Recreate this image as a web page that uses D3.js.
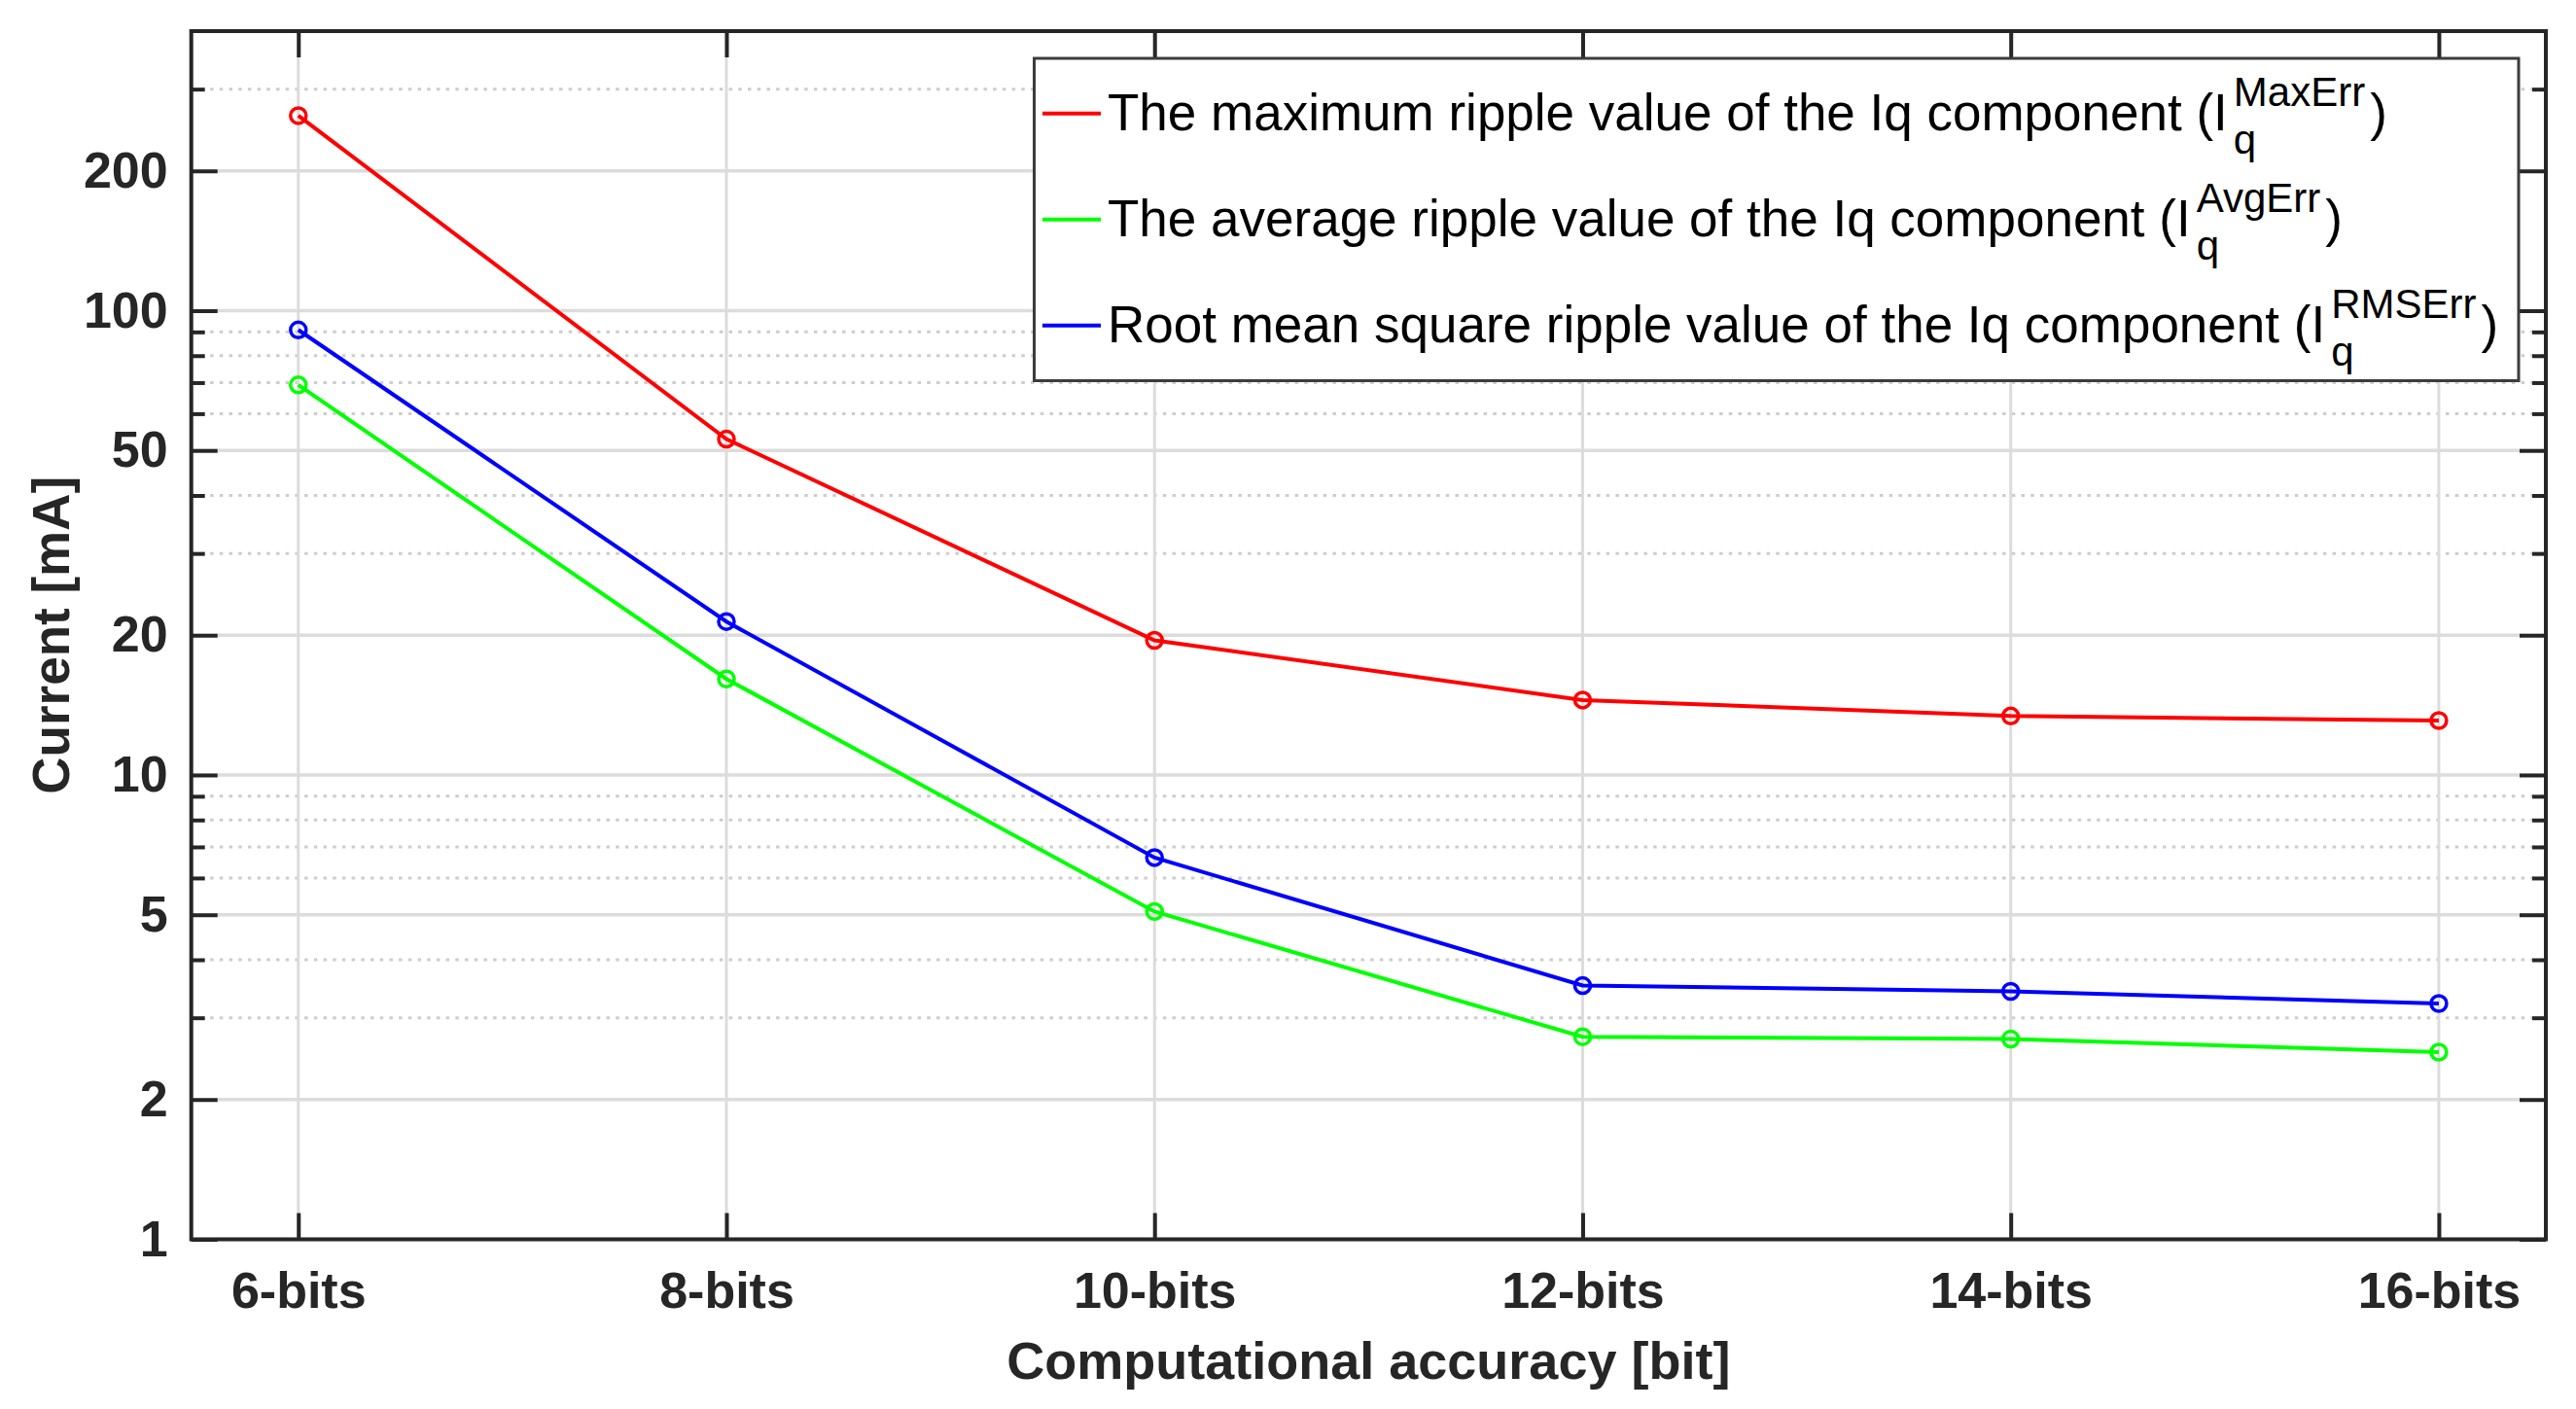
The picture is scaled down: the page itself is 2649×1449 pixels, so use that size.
<!DOCTYPE html>
<html>
<head>
<meta charset="utf-8">
<script src="https://cdn.jsdelivr.net/npm/d3@7"></script>
<style>
  body { margin: 0; background: #fff; }
  svg { display: block; font-family: "Liberation Sans", Arial, sans-serif; }
</style>
</head>
<body>
<svg id="chart" width="2649" height="1449"></svg>
<script>
// data
const categories = ["6-bits", "8-bits", "10-bits", "12-bits", "14-bits", "16-bits"];
const maxErr = [263, 52.9, 19.5, 14.5, 13.4, 13.1];
const avgErr = [69.2, 16.1, 5.08, 2.73, 2.70, 2.53];
const rmsErr = [90.9, 21.4, 6.64, 3.52, 3.42, 3.22];

const majorTicks = [1, 2, 5, 10, 20, 50, 100, 200];
const minorTicks = [3, 4, 6, 7, 8, 9, 30, 40, 60, 70, 80, 90, 300];

const seriesNames = [
  "The maximum ripple value of the Iq component (",
  "The average ripple value of the Iq component (",
  "Root mean square ripple value of the Iq component ("
];
const seriesSup = ["MaxErr", "AvgErr", "RMSErr"];
const seriesColors = ["#ff0000", "#00ff00", "#0000ff"];

//////////////////////////
// layout
//////////////////////////
let plot = {left: 196.7, right: 2618, top: 32, bottom: 1274.5};
let axisColor = "#262626";

let svg = d3.select("#chart");

let x = d3.scaleLinear()
  .domain([-0.25, categories.length - 0.75])
  .range([plot.left, plot.right]);

let y = d3.scaleLog()
  .domain([1, 400])
  .range([plot.bottom, plot.top]);

//////////////////////////
// grid
//////////////////////////
let grid = svg.append("g");

grid.selectAll(".minor")
  .data(minorTicks)
  .enter()
  .append("line")
  .attr("x1", plot.left).attr("x2", plot.right)
  .attr("y1", d => y(d)).attr("y2", d => y(d))
  .attr("stroke", "#cdcdcd")
  .attr("stroke-width", 3)
  .attr("stroke-dasharray", "3.5,6.2");

grid.selectAll(".major")
  .data(majorTicks)
  .enter()
  .append("line")
  .attr("x1", plot.left).attr("x2", plot.right)
  .attr("y1", d => y(d)).attr("y2", d => y(d))
  .attr("stroke", "#dcdcdc")
  .attr("stroke-width", 3.5);

grid.selectAll(".vert")
  .data(categories)
  .enter()
  .append("line")
  .attr("x1", (d, i) => x(i)).attr("x2", (d, i) => x(i))
  .attr("y1", plot.top).attr("y2", plot.bottom)
  .attr("stroke", "#dcdcdc")
  .attr("stroke-width", 3);

//////////////////////////
// series
//////////////////////////
let allSeries = [maxErr, avgErr, rmsErr];

let line = d3.line()
  .x((d, i) => x(i))
  .y(d => y(d));

allSeries.forEach((s, k) => {
  svg.append("path")
    .datum(s)
    .attr("d", line)
    .attr("fill", "none")
    .attr("stroke", seriesColors[k])
    .attr("stroke-width", 4);

  svg.append("g")
    .selectAll("circle")
    .data(s)
    .enter()
    .append("circle")
    .attr("cx", (d, i) => x(i))
    .attr("cy", d => y(d))
    .attr("r", 8)
    .attr("fill", "none")
    .attr("stroke", seriesColors[k])
    .attr("stroke-width", 3.5);
});

//////////////////////////
// axes (ticks inward, MATLAB style)
//////////////////////////
function styleAxis(g) {
  g.select(".domain").remove();
  g.selectAll(".tick line").attr("stroke", axisColor).attr("stroke-width", 4);
  g.selectAll("text")
    .attr("fill", axisColor)
    .attr("font-weight", "bold")
    .attr("font-size", 52);
  g.attr("font-family", null).attr("font-size", null);
}

svg.append("g")
  .attr("transform", `translate(${plot.left},0)`)
  .call(d3.axisLeft(y).tickValues(majorTicks).tickFormat(d3.format("d")).tickSize(-27).tickPadding(24))
  .call(styleAxis);

svg.append("g")
  .attr("transform", `translate(${plot.left},0)`)
  .call(d3.axisLeft(y).tickValues(minorTicks).tickFormat("").tickSize(-14))
  .call(styleAxis);

svg.append("g")
  .attr("transform", `translate(${plot.right},0)`)
  .call(d3.axisRight(y).tickValues(majorTicks).tickFormat("").tickSize(-27))
  .call(styleAxis);

svg.append("g")
  .attr("transform", `translate(${plot.right},0)`)
  .call(d3.axisRight(y).tickValues(minorTicks).tickFormat("").tickSize(-14))
  .call(styleAxis);

svg.append("g")
  .attr("transform", `translate(0,${plot.bottom})`)
  .call(d3.axisBottom(x).tickValues(d3.range(categories.length)).tickFormat(i => categories[i]).tickSize(-27).tickPadding(34))
  .call(styleAxis);

svg.append("g")
  .attr("transform", `translate(0,${plot.top})`)
  .call(d3.axisTop(x).tickValues(d3.range(categories.length)).tickFormat("").tickSize(-27))
  .call(styleAxis);

// box
svg.append("rect")
  .attr("x", plot.left).attr("y", plot.top)
  .attr("width", plot.right - plot.left).attr("height", plot.bottom - plot.top)
  .attr("fill", "none")
  .attr("stroke", axisColor)
  .attr("stroke-width", 4);

// axis titles
svg.append("text")
  .attr("x", (plot.left + plot.right) / 2)
  .attr("y", 1418)
  .attr("text-anchor", "middle")
  .attr("font-weight", "bold")
  .attr("font-size", 54)
  .attr("fill", axisColor)
  .text("Computational accuracy [bit]");

svg.append("text")
  .attr("transform", `translate(71,${(plot.top + plot.bottom) / 2}) rotate(-90)`)
  .attr("text-anchor", "middle")
  .attr("font-weight", "bold")
  .attr("font-size", 53)
  .attr("fill", axisColor)
  .text("Current [mA]");

//////////////////////////
// legend
//////////////////////////
let lg = svg.append("g");
let lgBox = {x: 1063.5, y: 60, w: 1526.5, h: 331.5};

lg.append("rect")
  .attr("x", lgBox.x).attr("y", lgBox.y)
  .attr("width", lgBox.w).attr("height", lgBox.h)
  .attr("fill", "#fff")
  .attr("stroke", "#3c3c3c")
  .attr("stroke-width", 3);

seriesNames.forEach((name, k) => {
  let base = 134.3 + k * 109;

  lg.append("line")
    .attr("x1", 1072).attr("x2", 1132)
    .attr("y1", base - 17.6).attr("y2", base - 17.6)
    .attr("stroke", seriesColors[k])
    .attr("stroke-width", 4);

  let main = lg.append("text")
    .attr("x", 1139).attr("y", base)
    .attr("font-size", 53)
    .attr("fill", "#000")
    .text(name + "I");
  let w = main.node().getComputedTextLength();
  let sx = 1139 + w + 6;

  lg.append("text")
    .attr("x", sx).attr("y", base + 24)
    .attr("font-size", 42)
    .attr("fill", "#000")
    .text("q");

  let sup = lg.append("text")
    .attr("x", sx).attr("y", base - 25)
    .attr("font-size", 42)
    .attr("fill", "#000")
    .text(seriesSup[k]);
  let sw = sup.node().getComputedTextLength();

  lg.append("text")
    .attr("x", sx + sw + 5).attr("y", base)
    .attr("font-size", 53)
    .attr("fill", "#000")
    .text(")");
});
</script>
</body>
</html>
